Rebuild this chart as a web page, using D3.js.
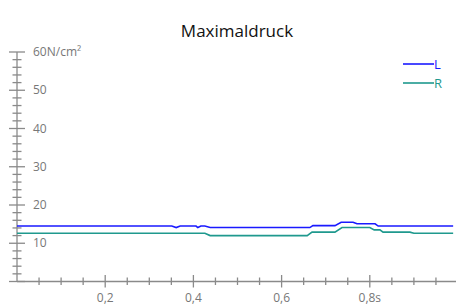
<!DOCTYPE html>
<html><head><meta charset="utf-8">
<script src="https://cdn.jsdelivr.net/npm/d3@7"></script>
<style>body{margin:0;background:#fff}svg{display:block}text{font-family:"Open Sans",sans-serif}</style>
</head><body><svg id="c" width="456" height="307"></svg>
<script>
const title = "Maximaldruck";
const seriesNames = ["L", "R"];
const seriesColors = ["#1a1aff", "#1f998e"];
const timeL = [0, 0.351, 0.361, 0.370, 0.406, 0.410, 0.417, 0.426, 0.438, 0.664, 0.671, 0.721, 0.735, 0.762, 0.771, 0.812, 0.819, 0.989];
const valueL = [14.5, 14.5, 14.1, 14.5, 14.5, 14.1, 14.5, 14.5, 14.1, 14.1, 14.6, 14.6, 15.5, 15.5, 15.1, 15.1, 14.5, 14.5];
const timeR = [0, 0.426, 0.438, 0.658, 0.669, 0.721, 0.737, 0.800, 0.810, 0.823, 0.830, 0.891, 0.900, 0.989];
const valueR = [12.6, 12.6, 12.0, 12.0, 12.9, 12.9, 14.1, 14.1, 13.5, 13.5, 12.9, 12.9, 12.6, 12.6];
const xTickLabels = ["0,2", "0,4", "0,6", "0,8s"];
const xTickValues = [0.2, 0.4, 0.6, 0.8];
const yTickLabels = ["10", "20", "30", "40", "50", "60N/cm²"];
const yTickValues = [10, 20, 30, 40, 50, 60];

const svg = d3.select("#c");
const x = d3.scaleLinear().domain([0, 1]).range([17, 458]);
const y = d3.scaleLinear().domain([0, 60]).range([281.5, 52]);
const axisColor = "#8a8a8a";

// title
svg.append("text").attr("x", 237).attr("y", 37).attr("text-anchor", "middle")
  .attr("font-size", 17).attr("fill", "#111").text(title);

// y axis
const gy = svg.append("g");
gy.append("line").attr("x1", x(0)).attr("x2", x(0)).attr("y1", y(60)).attr("y2", y(0))
  .attr("stroke", axisColor).attr("stroke-width", 1.3);
const yMinor = d3.range(0, 61, 2);
gy.selectAll("line.tk").data(yMinor).join("line").attr("class", "tk")
  .attr("x1", d => d % 10 === 0 ? x(0) - 8 : x(0) - 4.5)
  .attr("x2", d => d % 10 === 0 ? x(0) + 8 : x(0) + 4.5)
  .attr("y1", d => y(d)).attr("y2", d => y(d))
  .attr("stroke", axisColor).attr("stroke-width", 1.3);
gy.selectAll("text").data(yTickValues).join("text")
  .attr("x", 33).attr("y", d => y(d)).attr("dy", "0.35em")
  .attr("font-size", 12).attr("fill", "#777")
  .text((d, i) => yTickLabels[i]);

// x axis
const gx = svg.append("g");
gx.append("line").attr("x1", x(0)).attr("x2", 456).attr("y1", y(0)).attr("y2", y(0))
  .attr("stroke", axisColor).attr("stroke-width", 1.3);
const xMinor = d3.range(1, 20).map(i => i * 0.05);
gx.selectAll("line.tk").data(xMinor).join("line").attr("class", "tk")
  .attr("x1", d => x(d)).attr("x2", d => x(d))
  .attr("y1", (d, i) => (i + 1) % 4 === 0 ? y(0) - 6.5 : y(0) - 4)
  .attr("y2", (d, i) => (i + 1) % 4 === 0 ? y(0) + 6 : y(0) + 3.5)
  .attr("stroke", axisColor).attr("stroke-width", 1.3);
gx.selectAll("text").data(xTickValues).join("text")
  .attr("x", d => x(d)).attr("y", 302).attr("text-anchor", "middle")
  .attr("font-size", 12).attr("fill", "#777")
  .text((d, i) => xTickLabels[i]);

// lines
const line = d3.line().x(d => x(d[0])).y(d => y(d[1]));
const dataL = timeL.map((t, i) => [t, valueL[i]]);
const dataR = timeR.map((t, i) => [t, valueR[i]]);
svg.append("path").datum(dataR).attr("d", line).attr("fill", "none")
  .attr("stroke", seriesColors[1]).attr("stroke-width", 1.6);
svg.append("path").datum(dataL).attr("d", line).attr("fill", "none")
  .attr("stroke", seriesColors[0]).attr("stroke-width", 1.6);

// legend
seriesNames.forEach((n, i) => {
  const ly = 64 + i * 19;
  svg.append("line").attr("x1", 403).attr("x2", 434).attr("y1", ly).attr("y2", ly)
    .attr("stroke", seriesColors[i]).attr("stroke-width", 1.6);
  svg.append("text").attr("x", 434).attr("y", ly).attr("dy", "0.38em")
    .attr("font-size", 13).attr("fill", seriesColors[i]).text(n);
});
</script></body></html>
